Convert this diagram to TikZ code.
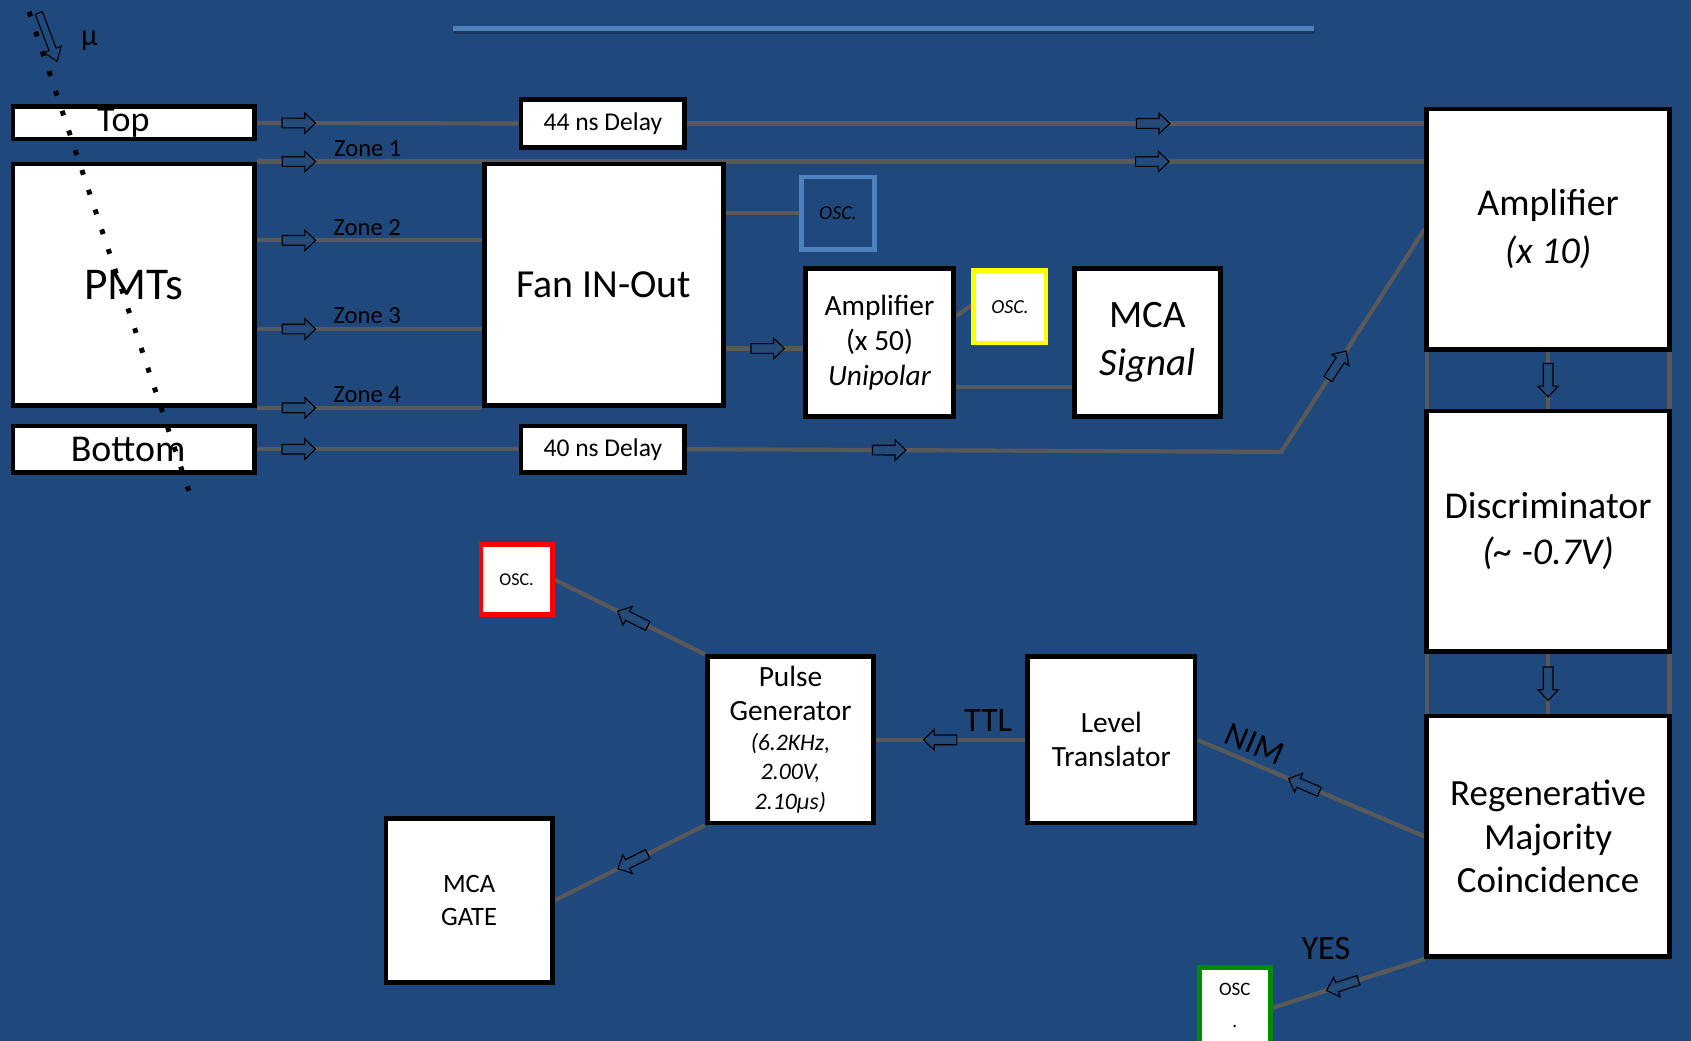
\documentclass[tikz,border=0pt]{standalone}
\usepackage{fontspec}
\setmainfont{Carlito}
\usetikzlibrary{calc}
\definecolor{bgc}{HTML}{1F497D}
\definecolor{wirec}{HTML}{595959}
\definecolor{sepc}{HTML}{4F81BD}
\definecolor{oscgreen}{HTML}{008A00}
\definecolor{oscyellow}{HTML}{FFFF00}
\definecolor{oscred}{HTML}{FF0000}
\pgfdeclarelayer{back}
\pgfdeclarelayer{wirelayer}
\pgfsetlayers{back,wirelayer,main}
\newcommand\fsz[2]{\fontsize{#1}{#2}\selectfont}
\newcommand\pgit{\fsz{12.5}{15.3}\itshape}
\tikzset{
  flow/.pic={\draw[black, line width=0.6pt, fill=bgc, fill opacity=0.85, line join=miter]
     (-15.5,-4.5) -- (5.5,-4.5) -- (5.5,-9.5) -- (15.5,0) -- (5.5,9.5) -- (5.5,4.5) -- (-15.5,4.5) -- cycle;},
  muarrow/.pic={\draw[black, line width=0.6pt, fill=bgc, line join=miter]
     (-24,-3.5) -- (12,-3.5) -- (12,-8.5) -- (24,0) -- (12,8.5) -- (12,3.5) -- (-24,3.5) -- cycle;},
}
\begin{document}
\begin{tikzpicture}[x=0.02cm, y=-0.02cm,
  blk/.style={draw=black, line width=2.5pt, fill=white, inner sep=0pt, align=center, text=black},
  oscbox/.style={blk, draw=#1},
  sz/.style 2 args={minimum width=#1*0.02cm, minimum height=#2*0.02cm},
  wire/.style={draw=wirec, line width=2.2pt},
  lbl/.style={font=\fsz{13}{15}, text=black, inner sep=2.5pt},
  arw/.style={sloped, allow upside down},
]
\begin{pgfonlayer}{back}
\fill[bgc] (0,0) rectangle (1568,965);
\end{pgfonlayer}
\useasboundingbox (0,0) rectangle (1568,965);

% separator line
\draw[black, opacity=0.25, line width=2.6pt] (421,29.5) -- (1219,29.5);
\draw[sepc, line width=2.6pt] (420,26) -- (1218,26);

% boxes
\node[blk, sz={224}{30}, font=\fsz{19}{23}] (top) at (124,114) {\hspace*{-11pt}Top};
\node[blk, sz={224}{224}, font=\fsz{24}{28}] (pmts) at (124,264) {PMTs};
\node[blk, sz={224}{43}, font=\fsz{20}{24}] (bottom) at (124,416.5) {\hspace*{-6pt}Bottom};
\node[blk, sz={152}{45}, font=\fsz{13.5}{16}] (d44) at (559,114.5) {44 ns Delay};
\node[blk, sz={222}{224}, font=\fsz{21}{25}] (fan) at (560,264) {Fan IN-Out};
\node[blk, sz={152}{43}, font=\fsz{13.5}{16}] (d40) at (559,416.5) {40 ns Delay};
\node[oscbox=sepc, fill=bgc, sz={68}{67}, font=\fsz{10.5}{12}\itshape] (oscb) at (777,197.5) {OSC.};
\node[blk, sz={137}{137}, font=\fsz{15.5}{18.4}] (amp50) at (815.5,317.5) {Amplifier\\(x 50)\\\itshape Unipolar};
\node[oscbox=oscyellow, sz={67}{67}, font=\fsz{10.5}{12}\itshape] (oscy) at (936.5,284.5) {OSC.};
\node[blk, sz={136}{137}, font=\fsz{20.5}{25.5}] (mcas) at (1064,317.5) {MCA\\\itshape Signal};
\node[blk, sz={225}{223}, font=\fsz{20}{25.5}] (amp10) at (1435.5,212.5) {Amplifier\\\itshape (x 10)};
\node[blk, sz={225}{223}, font=\fsz{20}{24}] (disc) at (1435.5,492.5) {Discriminator\\\itshape (\textasciitilde\ -0.7V)};
\node[blk, sz={225}{223}, font=\fsz{19.5}{23}] (rmc) at (1435.5,775.5) {Regenerative\\Majority\\Coincidence};
\node[blk, sz={155}{154}, font=\fsz{15.5}{18}] (level) at (1030.5,686) {Level\\Translator};
\node[blk, sz={154}{154}, font=\fsz{15.5}{18}] (pulse) at (733,686)
  {Pulse\\Generator\\[-2.4pt]\pgit (6.2KHz,\\[-2.3pt]\pgit 2.00V,\\[-2.3pt]\pgit 2.10μs)};
\node[oscbox=oscred, sz={66}{65}, font=\fsz{9.5}{11}] (oscr) at (479,537.5) {OSC.};
\node[blk, sz={154}{152}, font=\fsz{14}{17}] (mcag) at (435,835) {MCA\\GATE};
\node[oscbox=oscgreen, sz={66}{75}, font=\fsz{10}{17}] (oscg) at (1145,934.5) {\raisebox{3pt}{OSC}\\\raisebox{3pt}{.}};

% wires
\begin{pgfonlayer}{wirelayer}
\coordinate (z2) at ($(pmts.north east)!0.32!(pmts.south east)$);
\coordinate (z3) at ($(pmts.north east)!0.68!(pmts.south east)$);
\coordinate (bend) at (1188,419);
\coordinate (a50in) at ($(amp50.north west)!0.54!(amp50.south west)$);
\coordinate (a50out) at ($(amp50.north east)!0.79!(amp50.south east)$);
\coordinate (a50y) at ($(amp50.north east)!0.33!(amp50.south east)$);
\coordinate (oscyin) at ($(oscy.north west)!0.48!(oscy.south west)$);

\draw[wire] (top.east) -- (d44.west);
\draw[wire] (d44.east) -- (d44.east -| amp10.west);
\draw[wire] (pmts.north east) -- (pmts.north east -| amp10.west);
\draw[wire] (z2) -- (z2 -| fan.west);
\draw[wire] (z3) -- (z3 -| fan.west);
\draw[wire] (pmts.south east) -- (pmts.south east -| fan.west);
\draw[wire] (bottom.east) -- (d40.west);
\draw[wire] (d40.east) -- (bend) -- (amp10.west);
\draw[wire] (fan.east |- oscb.west) -- (oscb.west);
\draw[wire] (a50in -| fan.east) -- (a50in);
\draw[wire] (a50y) -- (oscyin);
\draw[wire] (a50out) -- (a50out -| mcas.west);
\draw[wire] ([xshift=1.2pt]amp10.south west) -- ([xshift=1.2pt]disc.north west);
\draw[wire] ([xshift=-1.2pt]amp10.south east) -- ([xshift=-1.2pt]disc.north east);
\draw[wire] (amp10.south) -- (disc.north);
\draw[wire] ([xshift=1.2pt]disc.south west) -- ([xshift=1.2pt]rmc.north west);
\draw[wire] ([xshift=-1.2pt]disc.south east) -- ([xshift=-1.2pt]rmc.north east);
\draw[wire] (disc.south) -- (rmc.north);
\draw[wire] (rmc.west) -- (level.east);
\draw[wire] (level.west) -- (pulse.east);
\draw[wire] (pulse.north west) -- (oscr.east);
\draw[wire] (pulse.south west) -- (mcag.east);
\draw[wire] (rmc.south west) -- (oscg.east);

% flow arrows
\path (top.east) -- (d44.west) pic[pos=0.16, arw] {flow};
\path (d44.east) -- (d44.east -| amp10.west) pic[pos=0.632, arw] {flow};
\path (pmts.north east) -- (pmts.north east -| amp10.west) pic[pos=0.036, arw] {flow} pic[pos=0.767, arw] {flow};
\path (z2) -- (z2 -| fan.west) pic[pos=0.187, arw] {flow};
\path (z3) -- (z3 -| fan.west) pic[pos=0.187, arw] {flow};
\path (pmts.south east) -- (pmts.south east -| fan.west) pic[pos=0.187, arw] {flow};
\path (bottom.east) -- (d40.west) pic[pos=0.16, arw] {flow};
\path (d40.east) -- (bend) pic[pos=0.34, arw] {flow};
\path (bend) -- (amp10.west) pic[pos=0.39, arw] {flow};
\path (a50in -| fan.east) -- (a50in) pic[pos=0.54, arw] {flow};
\path (amp10.south) -- (disc.north) pic[pos=0.5, arw] {flow};
\path (disc.south) -- (rmc.north) pic[pos=0.5, arw] {flow};
\path (rmc.west) -- (level.east) pic[pos=0.53, arw] {flow};
\path (level.west) -- (pulse.east) pic[pos=0.57, arw] {flow};
\path (pulse.north west) -- (oscr.east) pic[pos=0.48, arw] {flow};
\path (pulse.south west) -- (mcag.east) pic[pos=0.48, arw] {flow};
\path (rmc.south west) -- (oscg.east) pic[pos=0.54, arw] {flow};
\end{pgfonlayer}

% labels
\path (pmts.north east) -- (pmts.north east -| amp10.west) node[pos=0.095, above, lbl] (lz1) {Zone 1};
\path (z2) -- (z2 -| fan.west) node[pos=0.49, above, lbl] (lz2) {Zone 2};
\path (z3) -- (z3 -| fan.west) node[pos=0.49, above, lbl] (lz3) {Zone 3};
\path (pmts.south east) -- (pmts.south east -| fan.west) node[pos=0.49, above, lbl] (lz4) {Zone 4};
\path (level.west) -- (pulse.east) node[pos=0.25, above, inner sep=4pt, font=\fsz{18}{20}] (lttl) {TTL};
\path (level.east) -- (rmc.west) node[pos=0.22, sloped, above, inner sep=4pt, font=\fsz{18}{20}] (lnim) {NIM};
\path (rmc.south west) -- (oscg.east) node[pos=0.65, above=16pt, inner sep=0pt, font=\fsz{18}{20}] (lyes) {YES};

% muon
\coordinate (mua) at (36,12);
\coordinate (mub) at (53,57);
\path (mua) -- (mub) pic[pos=0.5, arw] {muarrow};
\node[font=\fsz{16}{18}, text=black] (mu) at (83,38) {μ};
\draw[black, line width=2.6pt, dash pattern=on 2.6pt off 8.4pt] (27,11) -- (175,455);
\end{tikzpicture}
\end{document}
